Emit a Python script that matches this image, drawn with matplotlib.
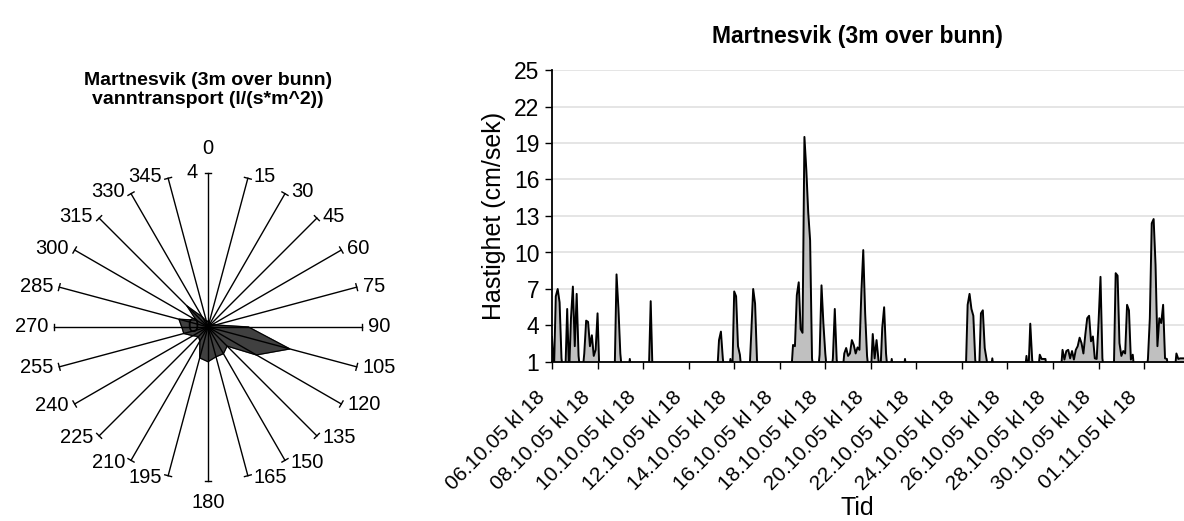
import numpy as np
import matplotlib
matplotlib.use("Agg")
import matplotlib.pyplot as plt
from matplotlib.transforms import ScaledTranslation

plt.rcParams['font.family'] = ['Liberation Sans', 'DejaVu Sans']

# ---------------- Radar data ----------------
directions = [0, 15, 30, 45, 60, 75, 90, 105, 120, 135, 150, 165,
              180, 195, 210, 225, 240, 255, 270, 285, 300, 315, 330, 345]
transport = [0.15, 0.12, 0.12, 0.12, 0.12, 0.2, 1.05, 2.2, 1.45, 0.7, 0.8, 0.8,
             0.9, 0.83, 0.42, 0.35, 0.45, 0.65, 0.68, 0.78, 0.35, 0.77, 0.3, 0.15]
radar_max = 4

# ---------------- Time series (2-hour steps, one list per 2 days) ----------------
tick_labels = ["06.10.05 kl 18", "08.10.05 kl 18", "10.10.05 kl 18", "12.10.05 kl 18",
               "14.10.05 kl 18", "16.10.05 kl 18", "18.10.05 kl 18", "20.10.05 kl 18",
               "22.10.05 kl 18", "24.10.05 kl 18", "26.10.05 kl 18", "28.10.05 kl 18",
               "30.10.05 kl 18", "01.11.05 kl 18"]
speed_0610 = [3.05, 0, 6.4, 7.0, 5.9, 1.3, 0, 0, 5.36, 0, 4.6, 7.2,
              2.3, 6.6, 1.5, 0, 0, 1.7, 4.4, 4.3, 2.3, 3.2, 1.5, 2.0]
speed_0810 = [5.0, 0, 0, 0, 0, 0, 0, 0, 0, 0, 8.2, 5.4,
              1.7, 0, 0, 0, 0, 1.25, 0, 0, 0, 0, 0, 0]
speed_1010 = [0, 0, 0, 0, 6.0, 0, 0, 0, 0, 0, 0, 0,
              0, 0, 0, 0, 0, 0, 0, 0, 0, 0, 0, 0]
speed_1210 = [0, 0, 0, 0, 0, 0, 0, 0, 0, 0, 0, 0,
              0, 0, 0, 0, 2.8, 3.5, 1.3, 0, 0, 0, 1.25, 0]
speed_1410 = [6.8, 6.4, 2.3, 1.6, 0, 0, 0, 0, 0, 3.4, 7.0, 5.8,
              1.2, 0, 0, 0, 0, 0, 0, 0, 0, 0, 0, 0]
speed_1610 = [0, 0, 0, 0, 0, 0, 0, 2.4, 2.3, 6.5, 7.55, 3.7,
              3.4, 19.5, 16.8, 13.3, 11.0, 1.3, 0, 0, 0, 1.6, 7.3, 4.15]
speed_1810 = [1.7, 0, 0, 0, 1.3, 5.36, 1.2, 0, 0, 0, 1.7, 2.15,
              1.5, 1.7, 2.8, 2.4, 1.7, 2.2, 2.0, 6.7, 10.2, 5.0, 1.5, 0]
speed_2010 = [0, 3.3, 1.3, 2.8, 1.2, 0, 3.8, 5.5, 1.7, 0, 0, 1.25,
              0, 0, 0, 0, 0, 0, 1.25, 0, 0, 0, 0, 0]
speed_2210 = [0, 0, 0, 0, 0, 0, 0, 0, 0, 0, 0, 0,
              0, 0, 0, 0, 0, 0, 0, 0, 0, 0, 0, 0]
speed_2410 = [0, 0, 0, 5.7, 6.6, 5.36, 4.8, 1.2, 0, 0, 5.0, 5.25,
              2.15, 1.2, 0, 0, 1.3, 0, 0, 0, 0, 0, 0, 0]
speed_2610 = [0, 0, 0, 0, 0, 0, 0, 0, 0, 0, 1.5, 0,
              4.15, 1.2, 0, 0, 0, 1.6, 1.25, 1.25, 1.25, 0, 0, 0]
speed_2810 = [0, 0, 0, 0, 0, 2.0, 1.2, 1.9, 2.0, 1.3, 1.9, 1.2,
              2.0, 2.3, 3.0, 2.55, 1.7, 3.25, 4.6, 4.8, 2.7, 3.1, 1.3, 1.25]
speed_3010 = [4.35, 8.0, 1.3, 0, 0, 0, 0, 0, 0, 8.3, 8.1, 2.55,
              1.5, 1.9, 1.7, 5.7, 5.25, 1.2, 1.6, 0, 0, 0, 0, 0]
speed_0111 = [0, 0, 1.25, 4.6, 12.4, 12.75, 9.0, 2.3, 4.6, 4.2, 5.7, 1.3,
              1.25, 0, 0, 0, 0, 1.7, 1.25, 1.3, 1.3, 1.3, 1.3, 1.3]
step_hours = 2
hours_per_label = 48
x_end_hours = 666

speed = np.array(speed_0610 + speed_0810 + speed_1010 + speed_1210 + speed_1410 +
                 speed_1610 + speed_1810 + speed_2010 + speed_2210 + speed_2410 +
                 speed_2610 + speed_2810 + speed_3010 + speed_0111)
hours = np.arange(len(speed)) * step_hours

W, H = 1184, 521
fig = plt.figure(figsize=(W / 100, H / 100), dpi=100)

# ---------------- Radar chart ----------------
cx, cy, R = 208, 327, 154
axr = fig.add_axes([(cx - R) / W, 1 - (cy + R) / H, 2 * R / W, 2 * R / H], projection='polar')
axr.set_theta_zero_location('N')
axr.set_theta_direction(-1)
axr.set_ylim(0, radar_max)
axr.grid(False)
axr.spines['polar'].set_visible(False)
axr.set_xticks([])
axr.set_yticks([])
axr.patch.set_alpha(0)

th = np.deg2rad(directions)
thc = np.append(th, th[0])
vals = np.append(transport, transport[0])
axr.fill(thc, vals, color='#404040', zorder=2)
axr.plot(thc, vals, color='black', lw=0.8, zorder=3)
d = 3.5 / R
for t, ang in zip(th, directions):
    axr.plot([t, t], [0, radar_max], color='black', lw=1.0, zorder=4, clip_on=False)
    axr.plot([t - d, t + d], [radar_max, radar_max], color='black', lw=1.0, zorder=4, clip_on=False)
    if ang == 0:
        ha, va, dx, dy = 'center', 'bottom', 0, 15
    elif ang == 180:
        ha, va, dx, dy = 'center', 'top', 0, -12
    elif ang < 180:
        ha, va, dx, dy = 'left', 'center', 6, 2 * np.cos(np.deg2rad(ang))
    else:
        ha, va, dx, dy = 'right', 'center', -6, 2 * np.cos(np.deg2rad(ang))
    axr.annotate(str(ang), xy=(t, radar_max), xytext=(dx, dy), textcoords='offset pixels',
                 ha=ha, va=va, fontsize=14.5, annotation_clip=False)
axr.annotate(str(radar_max), xy=(0, radar_max), xytext=(-10, 0), textcoords='offset pixels',
             ha='right', va='center', fontsize=14.5, annotation_clip=False)
axr.annotate("0", xy=(0, 0), xytext=(-10, 0), textcoords='offset pixels',
             ha='right', va='center', fontsize=14.5, annotation_clip=False, zorder=5)

fig.text(208 / W, 1 - 90 / H, "Martnesvik (3m over bunn)\nvanntransport (l/(s*m^2))",
         ha='center', va='center', fontsize=14, fontweight='bold', linespacing=1.15)

# ---------------- Time series ----------------
x0, y0, x1, y1 = 552, 70, 1184, 362
ax = fig.add_axes([x0 / W, 1 - y1 / H, (x1 - x0) / W, (y1 - y0) / H])
ax.fill_between(hours, speed, 0, color='#c0c0c0', lw=0, zorder=2)
ax.plot(hours, speed, color='black', lw=1.4, zorder=3)
ax.set_xlim(0, x_end_hours)
ax.set_ylim(1, 25)
ax.set_yticks(np.arange(1, 26, 3))
ax.yaxis.grid(True, color='#e0e0e0', lw=1.2, zorder=0)
ax.set_axisbelow(True)
for s in ['top', 'right']:
    ax.spines[s].set_visible(False)
for s in ['left', 'bottom']:
    ax.spines[s].set_linewidth(1.3)
    ax.spines[s].set_zorder(5)
xt = np.arange(len(tick_labels)) * hours_per_label
ax.set_xticks(xt)
ax.set_xticklabels(tick_labels, rotation=45, ha='right', va='center', rotation_mode='anchor',
                   fontsize=15)
ax.tick_params(axis='x', direction='out', length=5, width=1, pad=14)
ax.tick_params(axis='y', direction='out', length=5, width=1, labelsize=16.5, pad=4)
off = ScaledTranslation(-10 / 100, -6 / 100, fig.dpi_scale_trans)
for lab in ax.get_xticklabels():
    lab.set_transform(lab.get_transform() + off)
ax.set_ylabel("Hastighet (cm/sek)", fontsize=18, labelpad=6)
fig.text(857 / W, 1 - 508 / H, "Tid", ha='center', va='center', fontsize=18)
fig.text(857 / W, 1 - 37 / H, "Martnesvik (3m over bunn)", ha='center', va='center',
         fontsize=16.5, fontweight='bold')

fig.savefig("out.png", dpi=100)
